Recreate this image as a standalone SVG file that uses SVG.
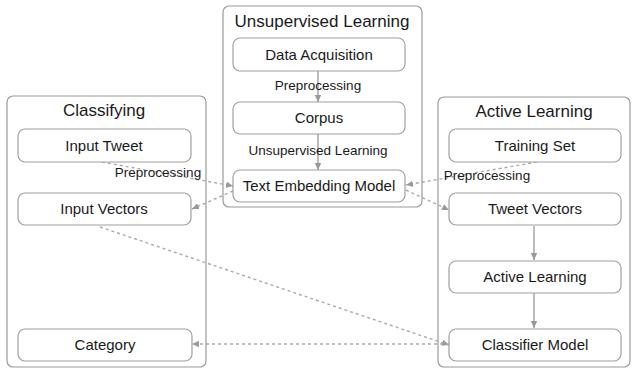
<svg xmlns="http://www.w3.org/2000/svg" width="632" height="369" viewBox="0 0 632 369">
<style>
.grp{fill:#fff;stroke:#9a9a9a;stroke-width:1.2}
.node{fill:#fff;stroke:#a0a0a0;stroke-width:1.2}
.title{font-family:"Liberation Sans",Arial,sans-serif;font-size:17px;fill:#1a1a1a;text-anchor:middle}
.nt{font-family:"Liberation Sans",Arial,sans-serif;font-size:15px;fill:#1a1a1a;text-anchor:middle}
.lbl{font-family:"Liberation Sans",Arial,sans-serif;font-size:13.5px;fill:#1a1a1a;text-anchor:middle}
.solid{stroke:#999;stroke-width:1.3;fill:none}
.dash{stroke:#aaa;stroke-width:1.4;fill:none;stroke-dasharray:3 3}
</style>
<defs>
<marker id="ah" markerWidth="8" markerHeight="8" refX="7" refY="4" orient="auto" markerUnits="userSpaceOnUse">
<path d="M0,0.8 L7,4 L0,7.2 Z" fill="#999"/>
</marker>
</defs>
<rect width="632" height="369" fill="#fff"/>
<g id="group-classifying">
<rect class="grp" x="7" y="96" width="199" height="271" rx="6"/>
<text class="title" x="104" y="116">Classifying</text>
</g>
<g id="group-unsupervised">
<rect class="grp" x="223" y="6" width="199" height="201" rx="6"/>
<text class="title" x="322" y="27">Unsupervised Learning</text>
</g>
<g id="group-active">
<rect class="grp" x="438" y="97" width="192" height="270" rx="6"/>
<text class="title" x="534" y="117">Active Learning</text>
</g>
<g id="connectors">
<line class="solid" x1="318" y1="71" x2="318" y2="102" marker-end="url(#ah)"/>
<line class="solid" x1="318" y1="134" x2="318" y2="170" marker-end="url(#ah)"/>
<line class="solid" x1="534" y1="226" x2="534" y2="260" marker-end="url(#ah)"/>
<line class="solid" x1="534" y1="293" x2="534" y2="328" marker-end="url(#ah)"/>
<line class="dash" x1="102" y1="162" x2="233" y2="186" marker-end="url(#ah)"/>
<line class="dash" x1="233" y1="191" x2="192" y2="209" marker-end="url(#ah)"/>
<line class="dash" x1="537" y1="162" x2="406" y2="185" marker-end="url(#ah)"/>
<line class="dash" x1="406" y1="190" x2="449" y2="210" marker-end="url(#ah)"/>
<line class="dash" x1="100" y1="227" x2="449" y2="345" marker-end="url(#ah)"/>
<line class="dash" x1="449" y1="344" x2="192" y2="344" marker-end="url(#ah)"/>
<text class="lbl" x="318" y="90">Preprocessing</text>
<text class="lbl" x="318" y="155">Unsupervised Learning</text>
<text class="lbl" x="158" y="177">Preprocessing</text>
<text class="lbl" x="487" y="180">Preprocessing</text>
</g>
<g id="node-data-acquisition">
<rect class="node" x="233" y="38" width="172" height="33" rx="7"/>
<text class="nt" x="319" y="60">Data Acquisition</text>
</g>
<g id="node-corpus">
<rect class="node" x="233" y="102" width="172" height="32" rx="7"/>
<text class="nt" x="319" y="123">Corpus</text>
</g>
<g id="node-text-embedding">
<rect class="node" x="233" y="170" width="172" height="32" rx="7"/>
<text class="nt" x="319" y="191">Text Embedding Model</text>
</g>
<g id="node-input-tweet">
<rect class="node" x="18" y="129" width="173" height="33" rx="7"/>
<text class="nt" x="104" y="151">Input Tweet</text>
</g>
<g id="node-input-vectors">
<rect class="node" x="18" y="193" width="173" height="32" rx="7"/>
<text class="nt" x="104" y="214">Input Vectors</text>
</g>
<g id="node-category">
<rect class="node" x="18" y="329" width="174" height="32" rx="7"/>
<text class="nt" x="105" y="350">Category</text>
</g>
<g id="node-training-set">
<rect class="node" x="449" y="129" width="172" height="33" rx="7"/>
<text class="nt" x="535" y="151">Training Set</text>
</g>
<g id="node-tweet-vectors">
<rect class="node" x="449" y="193" width="172" height="32" rx="7"/>
<text class="nt" x="535" y="214">Tweet Vectors</text>
</g>
<g id="node-active-learning">
<rect class="node" x="449" y="261" width="172" height="32" rx="7"/>
<text class="nt" x="535" y="282">Active Learning</text>
</g>
<g id="node-classifier-model">
<rect class="node" x="449" y="329" width="172" height="32" rx="7"/>
<text class="nt" x="535" y="350">Classifier Model</text>
</g>
</svg>
